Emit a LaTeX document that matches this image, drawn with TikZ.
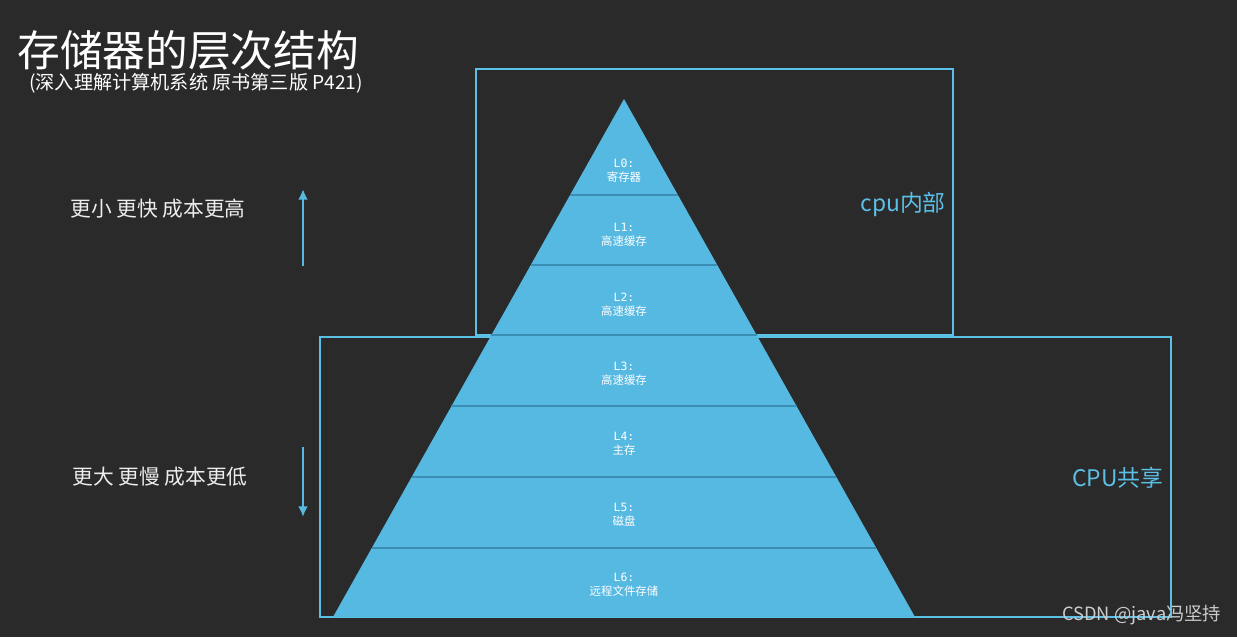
\documentclass[tikz,border=0pt]{standalone}
\usepackage{fontspec}
\usetikzlibrary{arrows.meta}
\setmainfont{Noto Sans CJK SC}
\setmonofont{DejaVu Sans Mono}
\definecolor{board}{HTML}{2A2A2A}
\definecolor{layerblue}{HTML}{56B9E2}
\definecolor{layerline}{HTML}{3B8DB3}
\definecolor{boxblue}{HTML}{5BBFE6}
\definecolor{chalk}{HTML}{EDEDED}

\begin{document}
\begin{tikzpicture}[
        x=0.02cm, y=-0.02cm,
        levelname/.style={align=center, text=white, inner sep=0pt,
                          font=\fontsize{6.5}{8}\selectfont},
        region/.style={draw=boxblue, line width=0.6pt},
        regionname/.style={anchor=west, text=boxblue, inner sep=0pt,
                           font=\fontsize{13}{15}\selectfont},
        side/.style={anchor=west, text=chalk, inner sep=0pt,
                     font=\fontsize{11.8}{13}\selectfont},
        trend/.style={draw=layerblue, line width=1.6pt,
                      -{Latex[length=6pt, width=5.5pt]}},
    ]
    \useasboundingbox (0,0) rectangle (1237,637);
    \fill[board] (0,0) rectangle (1237,637);

    % title
    \node[anchor=west, text=white, inner sep=0pt,
          font=\fontsize{24.3}{28}\selectfont] (title) at (17,50) {存储器的层次结构};
    \node[anchor=west, text=white, inner sep=0pt,
          font=\fontsize{10.9}{12}\selectfont] (subtitle) at (29,83)
          {(深入理解计算机系统 原书第三版 P421)};

    % cpu regions
    \draw[region] (476,69) rectangle (953,335);
    \draw[region] (320,337) rectangle (1171,617);
    \node[regionname] (inside) at (860,204) {cpu内部};
    \node[regionname] (shared) at (1072,478) {CPU共享};

    % pyramid
    \fill[layerblue] (624,99) -- (915,617) -- (333,617) -- cycle;
    \draw[layerline, line width=0.8pt] (570,195) -- (678,195);
    \draw[layerline, line width=0.8pt] (531,265) -- (717,265);
    \draw[layerline, line width=0.8pt] (491,335) -- (757,335);
    \draw[layerline, line width=0.8pt] (451,406) -- (797,406);
    \draw[layerline, line width=0.8pt] (412,477) -- (836,477);
    \draw[layerline, line width=0.8pt] (372,548) -- (876,548);

    \node[levelname] (l0) at (624,171) {\texttt{L0:}\\寄存器};
    \node[levelname] (l1) at (624,235) {\texttt{L1:}\\高速缓存};
    \node[levelname] (l2) at (624,305) {\texttt{L2:}\\高速缓存};
    \node[levelname] (l3) at (624,374) {\texttt{L3:}\\高速缓存};
    \node[levelname] (l4) at (624,444) {\texttt{L4:}\\主存};
    \node[levelname] (l5) at (624,515) {\texttt{L5:}\\磁盘};
    \node[levelname] (l6) at (624,585) {\texttt{L6:}\\远程文件存储};

    % trends
    \node[side] (fast) at (70,209) {更小 更快 成本更高};
    \node[side] (slow) at (72,477) {更大 更慢 成本更低};
    \coordinate (upfoot) at (303,266);
    \coordinate (uptip) at (303,189);
    \coordinate (downfoot) at (303,447);
    \coordinate (downtip) at (303,517);
    \draw[trend] (upfoot) -- (uptip);
    \draw[trend] (downfoot) -- (downtip);

    \node[anchor=west, text=black!20, inner sep=0pt,
          font=\fontsize{10.4}{12}\selectfont] (mark) at (1062,615) {CSDN @java冯坚持};
\end{tikzpicture}
\end{document}
